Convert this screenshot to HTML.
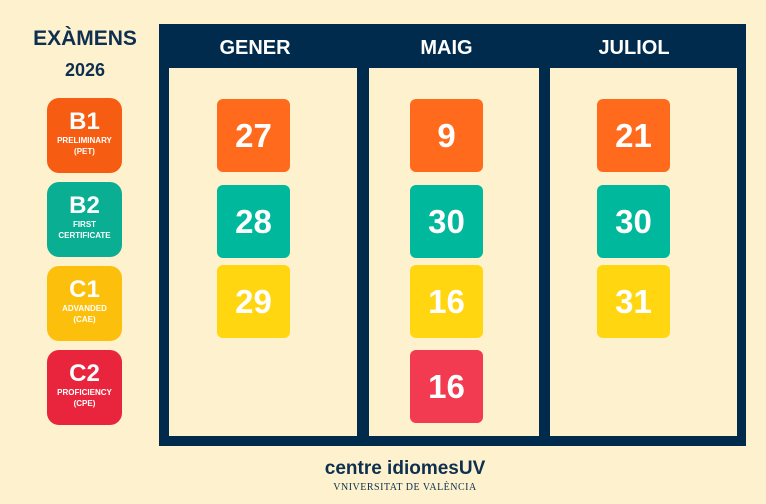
<!DOCTYPE html>
<html><head><style>
body{margin:0;width:766px;height:504px;background:#fdf2cd;position:relative;overflow:hidden;font-family:"Liberation Sans",sans-serif;}
.a{position:absolute}
.t{color:#0e2f4f;font-weight:bold;text-align:center}
.frame{left:159px;top:24px;width:587px;height:422px;background:#012b4d}
.panel{background:#fdf2cd;top:68px;height:368px}
.h{color:#fff;font-weight:bold;font-size:20px;top:37px;text-align:center}
.bd{width:75px;height:75px;border-radius:12px;color:#fff;text-align:center;font-weight:bold}
.bd b{display:block;font-size:24px;margin-top:11px;line-height:26px}
.bd span{display:block;font-size:8px;line-height:11px}
.d{width:73px;height:73px;border-radius:6px;color:#fff;font-weight:bold;font-size:33px;line-height:73px;text-align:center}
.o{background:#ff6a1c}.g{background:#00b89b}.y{background:#ffd60f}.r{background:#f23a50}
</style></head><body>
<div class="a t" style="left:20px;top:27px;width:130px;font-size:21px">EXÀMENS</div>
<div class="a t" style="left:20px;top:60px;width:130px;font-size:18px">2026</div>
<div class="a bd o" style="left:47px;top:98px;background:#f65d12"><b>B1</b><span>PRELIMINARY<br>(PET)</span></div>
<div class="a bd g" style="left:47px;top:182px;background:#0aae93"><b>B2</b><span>FIRST<br>CERTIFICATE</span></div>
<div class="a bd y" style="left:47px;top:266px;background:#fbbf0c"><b>C1</b><span>ADVANDED<br>(CAE)</span></div>
<div class="a bd r" style="left:47px;top:350px;background:#e9253e"><b>C2</b><span>PROFICIENCY<br>(CPE)</span></div>
<div class="a frame"></div>
<div class="a panel" style="left:169px;width:188px"></div>
<div class="a panel" style="left:369px;width:170px"></div>
<div class="a panel" style="left:550px;width:187px"></div>
<div class="a h" style="left:169px;width:172px">GENER</div>
<div class="a h" style="left:369px;width:155px">MAIG</div>
<div class="a h" style="left:550px;width:168px">JULIOL</div>
<div class="a d o" style="left:217px;top:99px">27</div>
<div class="a d g" style="left:217px;top:185px">28</div>
<div class="a d y" style="left:217px;top:265px">29</div>
<div class="a d o" style="left:410px;top:99px">9</div>
<div class="a d g" style="left:410px;top:185px">30</div>
<div class="a d y" style="left:410px;top:265px">16</div>
<div class="a d r" style="left:410px;top:350px">16</div>
<div class="a d o" style="left:597px;top:99px">21</div>
<div class="a d g" style="left:597px;top:185px">30</div>
<div class="a d y" style="left:597px;top:265px">31</div>
<div class="a t" style="left:300px;top:458px;width:210px;font-size:19px;font-weight:bold;color:#0e2f4f">centre idiomesUV</div>
<div class="a" style="left:300px;top:482px;width:210px;text-align:center;font-family:'Liberation Serif',serif;font-size:10px;color:#0e2f4f;letter-spacing:0.5px">VNIVERSITAT DE VALÈNCIA</div>
</body></html>
